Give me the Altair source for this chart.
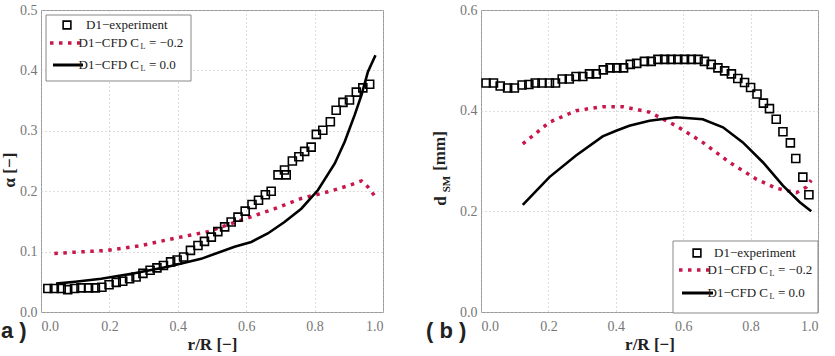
import altair as alt
import pandas as pd

# ---------------- data: panel (a) void fraction ----------------
exp_a_x = [0.02, 0.039, 0.059, 0.078, 0.098, 0.117, 0.139, 0.159, 0.178, 0.199, 0.22, 0.239, 0.259,
           0.278, 0.298, 0.319, 0.339, 0.358, 0.379, 0.398, 0.417, 0.437, 0.459, 0.478, 0.498, 0.517,
           0.537, 0.556, 0.576, 0.597, 0.617, 0.636, 0.656, 0.673, 0.693, 0.712, 0.717, 0.735, 0.754,
           0.771, 0.79, 0.805, 0.824, 0.846, 0.863, 0.883, 0.902, 0.922, 0.941, 0.961]
exp_a_y = [0.039, 0.039, 0.039, 0.037, 0.039, 0.04, 0.04, 0.04, 0.041, 0.045, 0.049, 0.051, 0.055,
           0.058, 0.064, 0.069, 0.073, 0.077, 0.083, 0.086, 0.091, 0.102, 0.11, 0.117, 0.124, 0.133,
           0.141, 0.149, 0.157, 0.167, 0.178, 0.185, 0.194, 0.2, 0.227, 0.235, 0.227, 0.25, 0.257,
           0.266, 0.273, 0.294, 0.301, 0.315, 0.334, 0.347, 0.351, 0.364, 0.371, 0.377]
cfd2_a_x = [0.039, 0.1, 0.195, 0.293, 0.39, 0.488, 0.585, 0.683, 0.761, 0.839, 0.898, 0.937, 0.956, 0.98]
cfd2_a_y = [0.097, 0.099, 0.102, 0.11, 0.122, 0.133, 0.152, 0.171, 0.188, 0.199, 0.209, 0.217, 0.207, 0.189]
cfd0_a_x = [0.044, 0.1, 0.176, 0.273, 0.371, 0.468, 0.566, 0.615, 0.663, 0.712, 0.761, 0.81, 0.859,
            0.888, 0.917, 0.937, 0.956, 0.978]
cfd0_a_y = [0.047, 0.05, 0.055, 0.064, 0.075, 0.088, 0.108, 0.116, 0.13, 0.149, 0.171, 0.202, 0.246,
            0.282, 0.326, 0.359, 0.398, 0.425]

# ---------------- data: panel (b) Sauter mean diameter ----------------
exp_b_x = [0.015, 0.037, 0.057, 0.079, 0.099, 0.122, 0.142, 0.161, 0.181, 0.203, 0.221, 0.241, 0.262,
           0.282, 0.302, 0.322, 0.342, 0.363, 0.383, 0.403, 0.423, 0.443, 0.462, 0.485, 0.505, 0.525,
           0.545, 0.564, 0.584, 0.604, 0.624, 0.644, 0.663, 0.683, 0.703, 0.723, 0.743, 0.762, 0.782,
           0.8, 0.819, 0.838, 0.856, 0.876, 0.896, 0.918, 0.934, 0.955, 0.973]
exp_b_y = [0.455, 0.455, 0.449, 0.445, 0.445, 0.451, 0.452, 0.455, 0.455, 0.455, 0.455, 0.463, 0.463,
           0.468, 0.468, 0.473, 0.473, 0.481, 0.485, 0.485, 0.485, 0.492, 0.494, 0.498, 0.498, 0.502,
           0.502, 0.502, 0.502, 0.502, 0.502, 0.502, 0.498, 0.492, 0.485, 0.479, 0.473, 0.464, 0.456,
           0.446, 0.433, 0.415, 0.404, 0.383, 0.358, 0.336, 0.305, 0.268, 0.233]
cfd2_b_x = [0.124, 0.203, 0.282, 0.361, 0.421, 0.5, 0.579, 0.658, 0.738, 0.817, 0.876, 0.936, 0.965, 0.98]
cfd2_b_y = [0.334, 0.377, 0.4, 0.408, 0.408, 0.397, 0.37, 0.337, 0.297, 0.264, 0.246, 0.237, 0.248, 0.262]
cfd0_b_x = [0.124, 0.203, 0.282, 0.361, 0.401, 0.44, 0.5, 0.579, 0.658, 0.718, 0.777, 0.837, 0.896, 0.946, 0.98]
cfd0_b_y = [0.213, 0.268, 0.311, 0.349, 0.36, 0.37, 0.38, 0.387, 0.383, 0.367, 0.337, 0.297, 0.251, 0.218, 0.2]

x_ticks = [0.0, 0.2, 0.4, 0.6, 0.8, 1.0]
a_ticks = [0.0, 0.1, 0.2, 0.3, 0.4, 0.5]
b_ticks = [0.0, 0.2, 0.4, 0.6]

lbl_exp = "D1\u2212experiment"
lbl_cfd = "D1\u2212CFD C"
lbl_sub = "L"
lbl_m02 = "= \u22120.2"
lbl_00 = "= 0.0"

SERIF = "'Liberation Serif', 'DejaVu Serif', serif"
SANS = "'Liberation Sans', 'DejaVu Sans', sans-serif"
RED = "#c8174a"
W, H = 342, 302
ONE = pd.DataFrame({"k": [0]})


def xaxis():
    return alt.Axis(values=x_ticks, format=".1f", labelFont=SERIF, labelFontSize=14,
                    labelColor="#777", tickSize=0, labelPadding=7, domain=False,
                    grid=True, gridDash=[1, 3], gridColor="#bbb",
                    title="r/R [\u2212]", titleFont=SERIF, titleFontSize=17, titleFontWeight="bold",
                    titleColor="#222", titlePadding=3)


def yaxis(vals):
    return alt.Axis(values=vals, format=".1f", labelFont=SERIF, labelFontSize=14,
                    labelColor="#777", tickSize=0, labelPadding=4, domain=False,
                    grid=True, gridDash=[1, 3], gridColor="#bbb", title=None)


def txt(s, x, y, size=13, font=SERIF, weight="normal", angle=0, align="left", color="#222"):
    return alt.Chart(ONE).mark_text(text=s, font=font, fontSize=size, fontWeight=weight,
                                    angle=angle, align=align, baseline="middle",
                                    color=color).encode(x=alt.value(x), y=alt.value(y))


def legend(bx, by, bw, bh, sq, rows_y, line_x0, line_x1, tx, c_end):
    box = alt.Chart(ONE).mark_rect(fill="white", stroke="#888", strokeWidth=1).encode(
        x=alt.value(bx), x2=alt.value(bx + bw), y=alt.value(by), y2=alt.value(by + bh))
    sym = alt.Chart(ONE).mark_point(shape="square", filled=False, size=60, color="black",
                                    strokeWidth=1.6, opacity=1).encode(
        x=alt.value(sq), y=alt.value(rows_y[0]))
    dot = alt.Chart(ONE).mark_rule(color=RED, strokeWidth=3.5, strokeDash=[3.5, 5.5]).encode(
        x=alt.value(line_x0), x2=alt.value(line_x1), y=alt.value(rows_y[1]))
    sol = alt.Chart(ONE).mark_rule(color="black", strokeWidth=3).encode(
        x=alt.value(line_x0 + 3), x2=alt.value(line_x1), y=alt.value(rows_y[2]))
    layers = [box, sym, dot, sol, txt(lbl_exp, tx, rows_y[0])]
    for ry, val in ((rows_y[1], lbl_m02), (rows_y[2], lbl_00)):
        layers += [txt(lbl_cfd, c_end, ry, align="right"),
                   txt(lbl_sub, c_end + 1.5, ry + 4, size=8),
                   txt(val, c_end + 10, ry)]
    return layers


def data_layers(ex, ey, c2x, c2y, c0x, c0y, ymax, yvals):
    xs = alt.Scale(domain=[0, 1], nice=False)
    ys = alt.Scale(domain=[0, ymax], nice=False)
    df_e = pd.DataFrame({"x": ex, "y": ey})
    df_2 = pd.DataFrame({"x": c2x, "y": c2y})
    df_0 = pd.DataFrame({"x": c0x, "y": c0y})
    base_x = alt.X("x:Q", scale=xs, axis=xaxis())
    base_y = alt.Y("y:Q", scale=ys, axis=yaxis(yvals))
    l2 = alt.Chart(df_2).mark_line(color=RED, strokeWidth=3.5, strokeDash=[3.5, 5.5]).encode(
        x=base_x, y=base_y)
    l0 = alt.Chart(df_0).mark_line(color="black", strokeWidth=2.6).encode(x=base_x, y=base_y)
    pe = alt.Chart(df_e).mark_point(shape="square", filled=False, size=64, color="black",
                                    strokeWidth=1.6, opacity=1).encode(x=base_x, y=base_y)
    return [l2, l0, pe]


left = alt.layer(
    *data_layers(exp_a_x, exp_a_y, cfd2_a_x, cfd2_a_y, cfd0_a_x, cfd0_a_y, 0.5, a_ticks),
    *legend(5, 5, 145, 66, 26, [15, 33, 55], 9, 42, 45, 98),
    txt("\u03b1 [\u2212]", -31, 160, size=17, weight="bold", angle=270, align="center"),
    txt("a )", -40, 321, size=22, font=SANS, weight="bold"),
).properties(width=W, height=H)

right = alt.layer(
    *data_layers(exp_b_x, exp_b_y, cfd2_b_x, cfd2_b_y, cfd0_b_x, cfd0_b_y, 0.6, b_ticks),
    *legend(192, 231, 145, 72, 216, [243, 260, 283], 198, 232, 233, 287),
    txt("d", -40, 191, size=17, weight="bold", angle=270, align="center"),
    txt("SM", -34, 174, size=11, weight="bold", angle=270, align="center"),
    txt("[mm]", -41, 141, size=17, weight="bold", angle=270, align="center"),
    txt("( b )", -55, 321, size=22, font=SANS, weight="bold"),
).properties(width=337, height=H)

chart = alt.hconcat(left, right, spacing=98, bounds="flush").resolve_scale(
    x="independent", y="independent"
).configure_view(stroke="#999", strokeWidth=1).properties(
    padding={"left": 0, "top": 2, "right": 0, "bottom": 0}, background="white")

chart.save("out.html", embed_options={"renderer": "svg", "actions": False})
